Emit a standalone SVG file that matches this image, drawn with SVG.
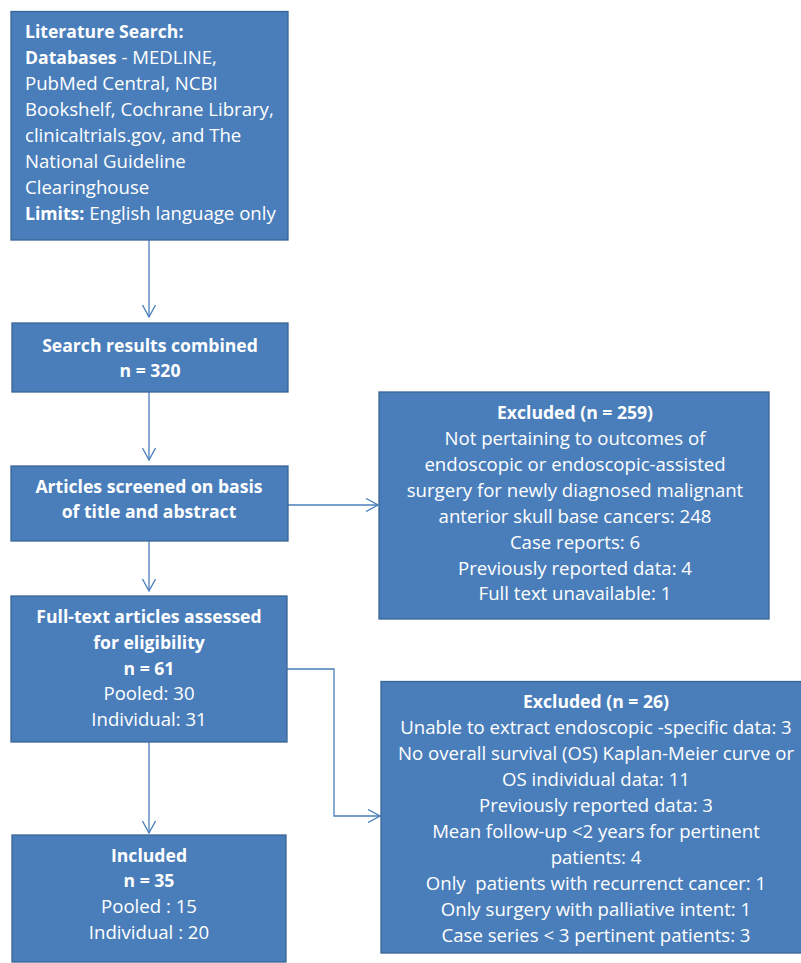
<svg xmlns="http://www.w3.org/2000/svg" width="801" height="963" viewBox="0 0 801 963">
<style>
.box{fill:#4A7EBB;stroke:#3A6496;stroke-width:1.3}
text{font-family:"Open Sans",Lato,"Liberation Sans",sans-serif;font-size:18.6px;fill:#FFFFFF;white-space:pre}
.c{text-anchor:middle}
.b{font-weight:bold;font-size:17.6px}
.conn{fill:none;stroke:#4A7EBB;stroke-width:1.3}
</style>
<defs>
<marker id="arr" viewBox="0 0 14 14" refX="13" refY="7" markerWidth="14" markerHeight="14" markerUnits="userSpaceOnUse" orient="auto">
<path d="M1,0.5 L13,7 L1,13.5" fill="none" stroke="#4A7EBB" stroke-width="1.3"/>
</marker>
</defs>
<rect width="801" height="963" fill="#FFFFFF"/>
<g id="connectors">
<line class="conn" x1="149" y1="240" x2="149" y2="317" marker-end="url(#arr)"/>
<line class="conn" x1="149" y1="392" x2="149" y2="460" marker-end="url(#arr)"/>
<line class="conn" x1="288" y1="505" x2="378" y2="505" marker-end="url(#arr)"/>
<line class="conn" x1="149" y1="541" x2="149" y2="591" marker-end="url(#arr)"/>
<line class="conn" x1="149" y1="742" x2="149" y2="833" marker-end="url(#arr)"/>
<polyline class="conn" points="287,669 334,669 334,816 380,816" marker-end="url(#arr)"/>
</g>
<g id="literature-search">
<rect class="box" x="11" y="11.5" width="277" height="228.5"/>
<text x="25" y="38"><tspan class="b">Literature Search:</tspan></text>
<text x="25" y="64"><tspan class="b">Databases</tspan> - MEDLINE,</text>
<text x="25" y="90">PubMed Central, NCBI</text>
<text x="25" y="116">Bookshelf, Cochrane Library,</text>
<text x="25" y="142">clinicaltrials.gov, and The</text>
<text x="25" y="168">National Guideline</text>
<text x="25" y="194">Clearinghouse</text>
<text x="25" y="220"><tspan class="b">Limits:</tspan> English language only</text>
</g>
<g id="search-results">
<rect class="box" x="12" y="323" width="276" height="69"/>
<text class="c b" x="150" y="352">Search results combined</text>
<text class="c b" x="150" y="377">n = 320</text>
</g>
<g id="screened">
<rect class="box" x="11" y="466" width="277" height="75"/>
<text class="c b" x="149" y="493">Articles screened on basis</text>
<text class="c b" x="149" y="518">of title and abstract</text>
</g>
<g id="excluded-259">
<rect class="box" x="379" y="392" width="390" height="227"/>
<text class="c b" x="575" y="419">Excluded (n = 259)</text>
<text class="c" x="575" y="445">Not pertaining to outcomes of</text>
<text class="c" x="575" y="471">endoscopic or endoscopic-assisted</text>
<text class="c" x="575" y="497">surgery for newly diagnosed malignant</text>
<text class="c" x="575" y="523">anterior skull base cancers: 248</text>
<text class="c" x="575" y="549">Case reports: 6</text>
<text class="c" x="575" y="575">Previously reported data: 4</text>
<text class="c" x="575" y="600">Full text unavailable: 1</text>
</g>
<g id="full-text">
<rect class="box" x="11" y="596" width="276" height="146"/>
<text class="c b" x="149" y="623">Full-text articles assessed</text>
<text class="c b" x="149" y="649">for eligibility</text>
<text class="c b" x="149" y="675">n = 61</text>
<text class="c" x="149" y="700">Pooled: 30</text>
<text class="c" x="149" y="726">Individual: 31</text>
</g>
<g id="excluded-26">
<rect class="box" x="381" y="681.5" width="425" height="271.5"/>
<text class="c b" x="596" y="708">Excluded (n = 26)</text>
<text class="c" x="596" y="734">Unable to extract endoscopic -specific data: 3</text>
<text class="c" x="596" y="760">No overall survival (OS) Kaplan-Meier curve or</text>
<text class="c" x="596" y="786">OS individual data: 11</text>
<text class="c" x="596" y="812">Previously reported data: 3</text>
<text class="c" x="596" y="838">Mean follow-up &lt;2 years for pertinent</text>
<text class="c" x="596" y="864">patients: 4</text>
<text class="c" x="596" y="890">Only  patients with recurrenct cancer: 1</text>
<text class="c" x="596" y="916">Only surgery with palliative intent: 1</text>
<text class="c" x="596" y="942">Case series &lt; 3 pertinent patients: 3</text>
</g>
<g id="included">
<rect class="box" x="12" y="835" width="274" height="127"/>
<text class="c b" x="149" y="862">Included</text>
<text class="c b" x="149" y="887">n = 35</text>
<text class="c" x="149" y="913">Pooled : 15</text>
<text class="c" x="149" y="939">Individual : 20</text>
</g>
</svg>
